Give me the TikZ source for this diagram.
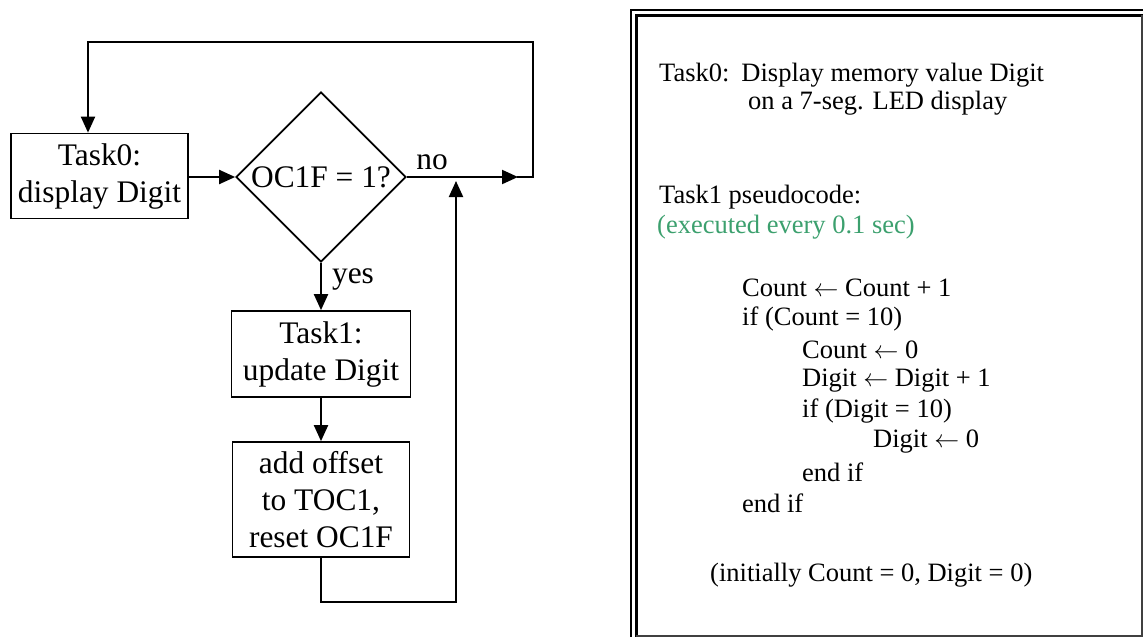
\documentclass[tikz,border=0pt]{standalone}
\usepackage{fontspec}
\setmainfont{Liberation Serif}
\usepackage{xcolor}
\usetikzlibrary{shapes.geometric,arrows.meta,positioning}
\definecolor{execgreen}{RGB}{60,160,110}

\begin{document}
\begin{tikzpicture}[x=1pt,y=-1pt]

        \tikzstyle{every node}=[inner sep=0pt]
        \tikzstyle{task}=[draw,line width=1.7pt,align=center,font=\fontsize{31.4}{37}\selectfont]
        \tikzstyle{test}=[diamond,draw,line width=1.7pt,minimum width=170pt,minimum height=170pt,font=\fontsize{31.4}{37}\selectfont]
        \tikzstyle{lbl}=[font=\fontsize{31.4}{37}\selectfont]
        \tikzstyle{flow}=[line width=2pt]
        \tikzstyle{arr}=[flow,-{Triangle[length=16pt,width=14pt]}]
        \tikzstyle{note}=[anchor=west,font=\fontsize{26.5}{30.7}\selectfont]
        \useasboundingbox (0,0) rectangle (1143,637);

        % flowchart
        \node[task,minimum width=177pt,minimum height=85pt] (T0) at (99.5,176) {Task0:\\display Digit};
        \node[test] (D) at (321,177) {OC1F = 1?};
        \node[task,minimum width=179pt,minimum height=86pt] (T1) at (321,354) {Task1:\\update Digit};
        \node[task,minimum width=177pt,minimum height=115pt] (T2) at (321,499.5) {add offset\\to TOC1,\\reset OC1F};
        \node[lbl] (no) at (432,162) {no};
        \node[lbl] (yes) at (353,279) {yes};

        \coordinate (J) at (533,177);
        \coordinate (TR) at (533,42);
        \coordinate (TL) at (88,42);
        \coordinate (B) at (456,602);

        \draw[arr] (T0.east |- D) -- (D.west);
        \draw[arr] (D.east) -- ([xshift=-15pt]J);
        \draw[arr] ([xshift=-16pt]J) -- (J) -- (TR) -- (TL) -- (TL |- T0.north);
        \draw[arr] (D.south) -- (T1.north);
        \draw[arr] (T1) -- (T2);
        \draw[arr] (T2.south) |- (B) -- ([yshift=-4pt]B |- J);

        % pseudocode panel
        \draw[line width=2.6pt] (631,637) -- (631,10) -- (1143,10);
        \draw[line width=2.8pt] (636.3,637) -- (636.3,15.3) -- (1143,15.3);
        \draw[line width=1.2pt,black!75] (636.3,636) -- (1142,636) -- (1142,15);

        \node[note] (d0a) at (659,75) {Task0:\hspace{12pt}Display memory value Digit};
        \node[note] (d0b) at (748,103) {on a 7-seg. LED display};
        \node[note] (p0) at (659,197) {Task1 pseudocode:};
        \node[note,text=execgreen] (p1) at (657,227) {(executed every 0.1 sec)};
        \foreach \n/\px/\py/\t in {c1/742/288/{Count $\leftarrow$ Count + 1},
                c2/742/319/{if (Count = 10)},
                c3/802/350/{Count $\leftarrow$ 0},
                c4/802/381/{Digit $\leftarrow$ Digit + 1},
                c5/802/411/{if (Digit = 10)},
                c6/873/442/{Digit $\leftarrow$ 0},
                c7/802/472/{end if},
                c8/742/503/{end if}}
            \node[note] (\n) at (\px,\py) {\t};
        \node[note] (init) at (710,575) {(initially Count = 0, Digit = 0)};
      \end{tikzpicture}
\end{document}
